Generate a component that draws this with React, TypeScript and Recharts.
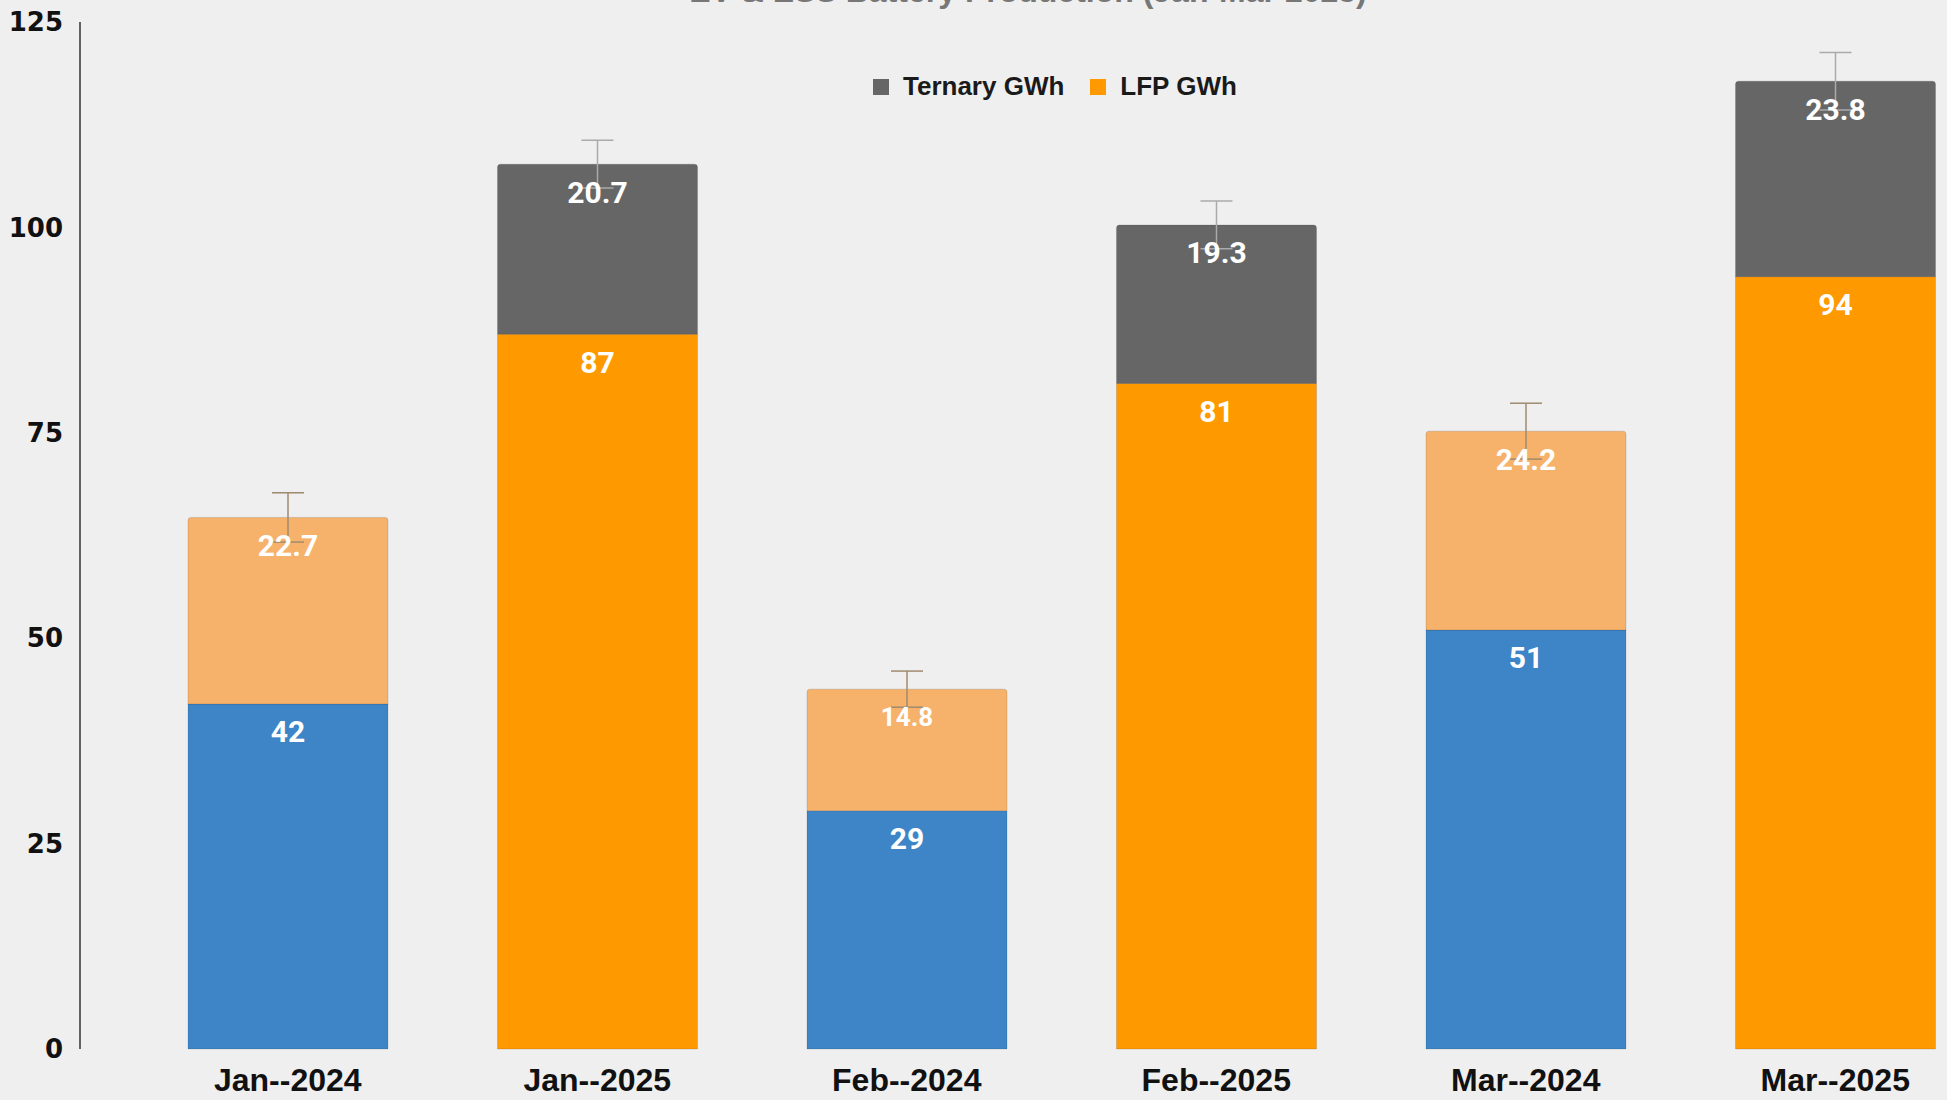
import React from "react";
import { BarChart, Bar, XAxis, YAxis, ErrorBar, LabelList, Legend } from "recharts";

// Battery production, GWh
const categories = ["Jan--2024", "Jan--2025", "Feb--2024", "Feb--2025", "Mar--2024", "Mar--2025"];
const base2024 = [42, null, 29, null, 51, null];
const extra2024 = [22.7, null, 14.8, null, 24.2, null];
const lfp2025 = [null, 87, null, 81, null, 94];
const ternary2025 = [null, 20.7, null, 19.3, null, 23.8];
const errorMargin2024 = [3.0, null, 2.2, null, 3.4, null];
const errorMargin2025 = [null, 2.9, null, 2.9, null, 3.5];
const yTicks = [0, 25, 50, 75, 100, 125];

const legendItems = [
  { label: "Ternary GWh", color: "#666666" },
  { label: "LFP GWh", color: "#ff9900" },
];

const chartData = categories.map((month, i) => ({
  month,
  base2024: base2024[i],
  extra2024: extra2024[i],
  lfp2025: lfp2025[i],
  ternary2025: ternary2025[i],
  err2024: errorMargin2024[i],
  err2025: errorMargin2025[i],
}));

const renderSegmentLabel = (props: any) => {
  const { x, y, width, value } = props;
  if (value == null) return null;
  const size = value < 15 ? 26 : 30;
  return (
    <text
      x={x + width / 2}
      y={y + 28}
      textAnchor="middle"
      dominantBaseline="central"
      fill="#ffffff"
      fontFamily="Roboto, sans-serif"
      fontWeight={700}
      fontSize={size}
    >
      {value}
    </text>
  );
};

const renderLegend = () => (
  <div style={{ display: "flex", alignItems: "center", fontFamily: "'Liberation Sans', Arial, sans-serif", fontWeight: 700, fontSize: 26, color: "#1a1a1a" }}>
    {legendItems.map((item) => (
      <div key={item.label} style={{ display: "flex", alignItems: "center", marginRight: 26 }}>
        <span style={{ width: 16, height: 16, background: item.color, display: "inline-block", marginRight: 14 }} />
        <span>{item.label}</span>
      </div>
    ))}
  </div>
);

export default function App() {
  return (
    <div style={{ position: "fixed", top: 0, left: 0, width: 1947, height: 1100, overflow: "hidden", background: "#efefef" }}>
      <BarChart
        width={1990}
        height={1100}
        data={chartData}
        margin={{ top: 22, right: 0, bottom: 0, left: 0 }}
      >
        <XAxis
          dataKey="month"
          axisLine={false}
          tickLine={false}
          tickSize={0}
          tickMargin={19}
          height={51}
          padding={{ left: 53, right: 0 }}
          interval={0}
          tick={{ fill: "#111111", fontSize: 32, fontWeight: 700, fontFamily: "'Liberation Sans', Arial, sans-serif" }}
        />
        <YAxis
          width={80}
          domain={[0, 125]}
          ticks={yTicks}
          interval={0}
          tickLine={false}
          tickSize={0}
          tickMargin={17}
          axisLine={{ stroke: "#333333", strokeWidth: 1.5 }}
          tick={{ fill: "#111111", fontSize: 26, fontWeight: 700, fontFamily: "'DejaVu Sans', sans-serif" }}
        />
        <Legend
          layout="horizontal"
          verticalAlign="middle"
          align="center"
          content={renderLegend}
          wrapperStyle={{ top: 71, left: 873, width: "auto", height: "auto" }}
        />
        <Bar dataKey="base2024" stackId="a" fill="#3d85c6" barSize={200} stroke="rgba(0,0,0,0.12)" isAnimationActive={false}>
          <LabelList dataKey="base2024" content={renderSegmentLabel} />
        </Bar>
        <Bar dataKey="extra2024" stackId="a" fill="#f6b26b" barSize={200} stroke="rgba(0,0,0,0.12)" radius={[3, 3, 0, 0]} isAnimationActive={false}>
          <LabelList dataKey="extra2024" content={renderSegmentLabel} />
          <ErrorBar dataKey="err2024" width={16} stroke="#a08a70" strokeWidth={1.5} />
        </Bar>
        <Bar dataKey="lfp2025" stackId="a" fill="#ff9900" barSize={200} stroke="rgba(0,0,0,0.12)" isAnimationActive={false}>
          <LabelList dataKey="lfp2025" content={renderSegmentLabel} />
        </Bar>
        <Bar dataKey="ternary2025" stackId="a" fill="#666666" barSize={200} stroke="rgba(0,0,0,0.12)" radius={[3, 3, 0, 0]} isAnimationActive={false}>
          <LabelList dataKey="ternary2025" content={renderSegmentLabel} />
          <ErrorBar dataKey="err2025" width={16} stroke="#aaaaaa" strokeWidth={1.5} />
        </Bar>
      </BarChart>
      <svg width={1947} height={40} style={{ position: "absolute", top: 0, left: 0, pointerEvents: "none" }}>
        <text
          x={1028}
          y={2}
          textAnchor="middle"
          fill="#777777"
          fontFamily="'Liberation Sans', Arial, sans-serif"
          fontWeight={700}
          fontSize={32}
        >
          EV &amp; ESS Battery Production (Jan-Mar 2025)
        </text>
      </svg>
    </div>
  );
}
